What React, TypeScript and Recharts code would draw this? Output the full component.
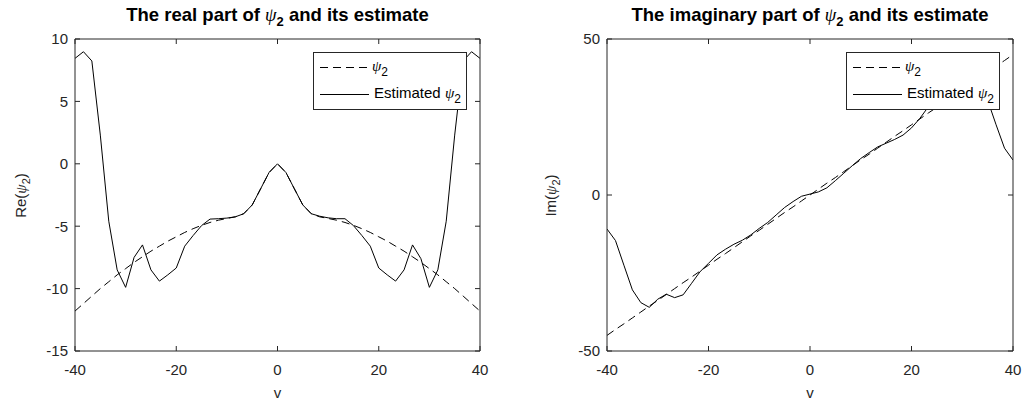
import { LineChart, Line, XAxis, YAxis } from 'recharts';

const FONT = '"Liberation Sans", Arial, Helvetica, sans-serif';
const PSI_FONT = '"Liberation Serif", "DejaVu Serif", serif';

// sample points in v
const V = [
  -40, -38.33, -36.67, -35, -33.33, -31.67, -30, -28.33, -26.67, -25, -23.33, -21.67, -20,
  -18.33, -16.67, -15, -13.33, -11.67, -10, -8.33, -6.67, -5, -3.33, -1.67, 0,
  1.67, 3.33, 5, 6.67, 8.33, 10, 11.67, 13.33, 15, 16.67, 18.33, 20,
  21.67, 23.33, 25, 26.67, 28.33, 30, 31.67, 33.33, 35, 36.67, 38.33, 40,
];

// real part: true psi_2 (dashed) and estimate (solid)
const RE_TRUE = [
  -11.8, -11.2, -10.6, -10.0, -9.45, -8.9, -8.4, -7.9, -7.45, -7.0, -6.6, -6.2, -5.85,
  -5.5, -5.2, -4.93, -4.7, -4.52, -4.38, -4.25, -4.0, -3.3, -2.0, -0.7, 0,
  -0.7, -2.0, -3.3, -4.0, -4.25, -4.38, -4.52, -4.7, -4.93, -5.2, -5.5, -5.85,
  -6.2, -6.6, -7.0, -7.45, -7.9, -8.4, -8.9, -9.45, -10.0, -10.6, -11.2, -11.8,
];
const RE_EST = [
  8.45, 8.98, 8.24, 2.3, -4.6, -8.5, -9.9, -7.5, -6.5, -8.5, -9.4, -8.9, -8.35,
  -6.6, -5.75, -4.95, -4.43, -4.4, -4.35, -4.25, -4.0, -3.3, -2.0, -0.7, 0,
  -0.7, -2.0, -3.3, -4.0, -4.2, -4.33, -4.4, -4.4, -4.95, -5.75, -6.6, -8.35,
  -8.9, -9.4, -8.5, -6.5, -7.6, -9.9, -8.5, -4.6, 2.3, 8.24, 8.98, 8.45,
];

// imaginary part: true psi_2 (dashed) and estimate (solid)
const IM_TRUE = [
  -45, -43.1, -41.3, -39.4, -37.5, -35.6, -33.8, -31.9, -30.0, -28.1, -26.3, -24.4, -22.5,
  -20.6, -18.8, -16.9, -15.0, -13.1, -11.3, -9.4, -7.5, -5.6, -3.8, -1.9, 0,
  1.9, 3.8, 5.6, 7.5, 9.4, 11.3, 13.1, 15.0, 16.9, 18.8, 20.6, 22.5,
  24.4, 26.3, 28.1, 30.0, 31.9, 33.8, 35.6, 37.5, 39.4, 41.3, 43.1, 45,
];
const IM_EST = [
  -10.9, -14.6, -22.5, -30.4, -34.5, -36.0, -33.4, -31.8, -32.9, -32.0, -28.3, -24.6, -21.9,
  -19.2, -17.4, -15.8, -14.5, -12.8, -10.7, -8.8, -6.4, -4.0, -2.1, -0.4, 0.3,
  1.0, 2.3, 4.6, 7.0, 9.4, 11.7, 13.6, 15.4, 16.6, 17.8, 19.2, 21.5,
  24.6, 28.3, 31.5, 32.9, 31.8, 33.4, 36.0, 34.5, 30.4, 22.5, 15.0, 11.2,
];

const X_DOMAIN: [number, number] = [-40, 40];
const X_TICKS = [-40, -20, 0, 20, 40];
const RE_TICKS = [-15, -10, -5, 0, 5, 10];
const IM_TICKS = [-50, 0, 50];

const reData = V.map((v, i) => ({ v, psi: RE_TRUE[i], est: RE_EST[i] }));
const imData = V.map((v, i) => ({ v, psi: IM_TRUE[i], est: IM_EST[i] }));

const AXIS = '#262626';
const TOP = 39;
const BOTTOM = 351;
const Y_AXIS_W = 40;

function Psi2({ size = 15 }: { size?: number }) {
  return (
    <>
      <tspan fontFamily={PSI_FONT} fontStyle="italic">ψ</tspan>
      <tspan fontSize={size * 0.8} dy={size * 0.35}>2</tspan>
    </>
  );
}

function PsiLegend({ left }: { left: number }) {
  return (
    <div
      style={{
        position: 'absolute', left, top: 52, width: 152, height: 56,
        border: `1px solid ${AXIS}`, background: '#fff',
      }}
    >
      <svg width={152} height={56} style={{ display: 'block' }}>
        <line x1={6} x2={55} y1={14.5} y2={14.5} stroke="#000" strokeDasharray="8 5" />
        <line x1={6} x2={55} y1={41.5} y2={41.5} stroke="#000" />
        <text x={58} y={18} fontFamily={FONT} fontSize={15} fill="#000">
          <Psi2 />
        </text>
        <text x={60} y={45} fontFamily={FONT} fontSize={15} fill="#000">
          Estimated <Psi2 />
        </text>
      </svg>
    </div>
  );
}

// top and right edges of the MATLAB-style box, with inward ticks
function BoxEdges({ width, x0, x1, yDomain, yTicks }: {
  width: number; x0: number; x1: number; yDomain: [number, number]; yTicks: number[];
}) {
  const sx = (v: number) => x0 + ((v - X_DOMAIN[0]) / (X_DOMAIN[1] - X_DOMAIN[0])) * (x1 - x0);
  const sy = (v: number) => TOP + ((yDomain[1] - v) / (yDomain[1] - yDomain[0])) * (BOTTOM - TOP);
  return (
    <svg
      width={width} height={407}
      style={{ position: 'absolute', left: 0, top: 0, pointerEvents: 'none' }}
    >
      <line x1={x0} x2={x1} y1={TOP} y2={TOP} stroke={AXIS} />
      <line x1={x1} x2={x1} y1={TOP} y2={BOTTOM} stroke={AXIS} />
      {X_TICKS.map((t) => (
        <line key={`x${t}`} x1={sx(t)} x2={sx(t)} y1={TOP} y2={TOP + 5} stroke={AXIS} />
      ))}
      {yTicks.map((t) => (
        <line key={`y${t}`} x1={x1 - 5} x2={x1} y1={sy(t)} y2={sy(t)} stroke={AXIS} />
      ))}
    </svg>
  );
}

interface PanelProps {
  left: number;
  width: number;
  marginLeft: number;
  marginRight: number;
  data: { v: number; est: number; psi: number }[];
  yDomain: [number, number];
  yTicks: number[];
  title: string;
  yName: string;
  yLabelX: number;
  legendLeft: number;
}

function Panel(p: PanelProps) {
  const plotLeft = p.marginLeft + Y_AXIS_W;
  const plotRight = p.width - p.marginRight;
  const center = p.left + (plotLeft + plotRight) / 2;
  return (
    <>
      <div
        style={{
          position: 'absolute', left: center - 200, top: 4, width: 400, textAlign: 'center',
          fontFamily: FONT, fontSize: 18.5, fontWeight: 'bold', lineHeight: '22px', color: '#000',
        }}
      >
        {p.title} <i style={{ fontFamily: PSI_FONT, fontWeight: 'normal' }}>ψ</i>
        <span style={{ fontSize: 13, position: 'relative', top: 5 }}>2</span> and its estimate
      </div>
      <div
        style={{
          position: 'absolute', left: p.yLabelX - 40, top: 185, width: 80, textAlign: 'center',
          fontFamily: FONT, fontSize: 15, lineHeight: '20px', color: AXIS,
          transform: 'rotate(-90deg)',
        }}
      >
        {p.yName}(<i style={{ fontFamily: PSI_FONT }}>ψ</i>
        <span style={{ fontSize: 11, position: 'relative', top: 4 }}>2</span>)
      </div>
      <div style={{ position: 'absolute', left: p.left, top: 0, width: p.width, height: 407 }}>
        <LineChart
          width={p.width}
          height={407}
          data={p.data}
          margin={{ top: TOP, right: p.marginRight, bottom: 26, left: p.marginLeft }}
        >
          <XAxis
            dataKey="v" type="number" domain={X_DOMAIN} ticks={X_TICKS} interval={0}
            allowDataOverflow stroke={AXIS} tickSize={-5} tickMargin={18} height={30}
            tick={{ fill: AXIS, fontSize: 15, fontFamily: FONT }}
            label={{ value: 'v', position: 'bottom', offset: 6, fill: AXIS, fontSize: 15, fontFamily: FONT }}
          />
          <YAxis
            type="number" domain={p.yDomain} ticks={p.yTicks} interval={0} allowDataOverflow
            stroke={AXIS} tickSize={-5} tickMargin={12} width={Y_AXIS_W}
            tick={{ fill: AXIS, fontSize: 15, fontFamily: FONT }}
          />
          <Line
            dataKey="psi" stroke="#000" strokeWidth={1} strokeDasharray="8 5"
            dot={false} isAnimationActive={false}
          />
          <Line
            dataKey="est" stroke="#000" strokeWidth={1} dot={false} isAnimationActive={false}
          />
        </LineChart>
        <BoxEdges width={p.width} x0={plotLeft} x1={plotRight} yDomain={p.yDomain} yTicks={p.yTicks} />
        <PsiLegend left={p.legendLeft} />
      </div>
    </>
  );
}

export default function App() {
  return (
    <div style={{ position: 'absolute', left: 0, top: 0, width: 1025, height: 407, background: '#fff' }}>
      <Panel
        left={0} width={512} marginLeft={35} marginRight={32}
        data={reData} yDomain={[-15, 10]} yTicks={RE_TICKS}
        title="The real part of" yName="Re" yLabelX={21} legendLeft={313}
      />
      <Panel
        left={512} width={513} marginLeft={55} marginRight={12}
        data={imData} yDomain={[-50, 50]} yTicks={IM_TICKS}
        title="The imaginary part of" yName="Im" yLabelX={551} legendLeft={334}
      />
    </div>
  );
}
